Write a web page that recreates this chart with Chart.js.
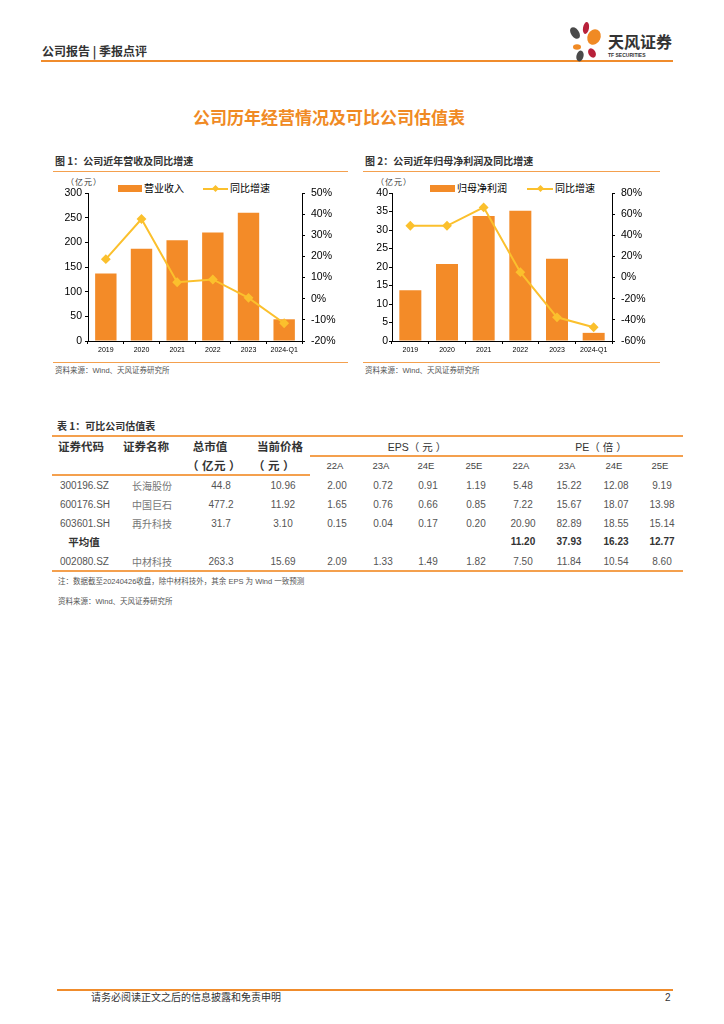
<!DOCTYPE html>
<html>
<head>
<meta charset="utf-8">
<script src="https://cdn.jsdelivr.net/npm/chart.js@4.4.1/dist/chart.umd.min.js"></script>
<style>
html, body { margin: 0; padding: 0; background: #fff; }
body { width: 724px; height: 1024px; position: relative; overflow: hidden;
  font-family: "Liberation Sans", "Noto Sans CJK SC", sans-serif; color: #333; }
.t { position: absolute; white-space: nowrap; line-height: 1; }
.ln { position: absolute; background: #F4A04E; }
canvas { position: absolute; }
.sw-bar { position: absolute; background: #F38B28; }
.sw-line { position: absolute; height: 2px; background: #FBC02D; }
.sw-dot { position: absolute; width: 5px; height: 5px; background: #FBC02D; transform: rotate(45deg); }
</style>
</head>
<body>

<!-- header -->
<div class="t" style="left:42px;top:45px;font-size:12px;font-weight:bold;color:#333;font-family:'Noto Sans CJK SC';">公司报告 | 季报点评</div>
<div class="ln" style="left:41px;top:60px;width:632px;height:2px;background:#F08C2C;"></div>
<svg style="position:absolute;left:566px;top:20px" width="42" height="42" viewBox="0 0 42 42">
  <ellipse cx="9" cy="13" rx="4" ry="6.5" fill="#4a4a4a" transform="rotate(-35 9 13)"/>
  <ellipse cx="20" cy="8" rx="3" ry="6" fill="#B8213A" transform="rotate(10 20 8)"/>
  <ellipse cx="28" cy="17" rx="6.5" ry="8" fill="#F08A24" transform="rotate(25 28 17)"/>
  <ellipse cx="11" cy="27" rx="4" ry="2.8" fill="#F08A24"/>
  <ellipse cx="26" cy="33" rx="3.5" ry="5" fill="#B8213A" transform="rotate(-30 26 33)"/>
  <ellipse cx="14" cy="36" rx="3.5" ry="5.5" fill="#4a4a4a" transform="rotate(15 14 36)"/>
</svg>
<div class="t" style="left:608px;top:33px;font-size:16px;font-weight:bold;color:#333;font-family:'Noto Sans CJK SC';">天风证券</div>
<div class="t" style="left:608px;top:53px;font-size:5px;font-weight:bold;color:#333;">TF SECURITIES</div>

<!-- main title -->
<div class="t" style="left:329px;top:116px;transform:translate(-50%,-50%);font-size:17px;font-weight:bold;color:#F08A24;font-family:'Noto Sans CJK SC';">公司历年经营情况及可比公司估值表</div>

<!-- chart 1 frame -->
<div class="t" style="left:55px;top:156px;font-size:10px;font-weight:bold;color:#333;font-family:'Noto Sans CJK SC';">图 1：公司近年营收及同比增速</div>
<div class="ln" style="left:53px;top:171px;width:295px;height:1px;"></div>
<div class="t" style="left:66px;top:178px;font-size:8px;color:#333;letter-spacing:1px;font-family:'Noto Sans CJK SC';">（亿元）</div>
<div class="sw-bar" style="left:118px;top:185px;width:24px;height:7px;"></div>
<div class="t" style="left:144px;top:183px;font-size:10px;color:#000;font-family:'Noto Sans CJK SC';">营业收入</div>
<div class="sw-line" style="left:203px;top:188px;width:25px;"></div>
<div class="sw-dot" style="left:213px;top:186px;"></div>
<div class="t" style="left:230px;top:183px;font-size:10px;color:#000;font-family:'Noto Sans CJK SC';">同比增速</div>
<canvas id="revChart" width="300" height="180" style="left:50px;top:180px;width:300px;height:180px;"></canvas>
<div class="ln" style="left:53px;top:362px;width:295px;height:1px;"></div>
<div class="t" style="left:55px;top:367px;font-size:7.5px;color:#555;">资料来源：Wind、天风证券研究所</div>

<!-- chart 2 frame -->
<div class="t" style="left:365px;top:156px;font-size:10px;font-weight:bold;color:#333;font-family:'Noto Sans CJK SC';">图 2：公司近年归母净利润及同比增速</div>
<div class="ln" style="left:363px;top:171px;width:297px;height:1px;"></div>
<div class="t" style="left:376px;top:178px;font-size:8px;color:#333;letter-spacing:1px;font-family:'Noto Sans CJK SC';">（亿元）</div>
<div class="sw-bar" style="left:430px;top:185px;width:25px;height:7px;"></div>
<div class="t" style="left:457px;top:183px;font-size:10px;color:#000;font-family:'Noto Sans CJK SC';">归母净利润</div>
<div class="sw-line" style="left:527px;top:188px;width:26px;"></div>
<div class="sw-dot" style="left:538px;top:186px;"></div>
<div class="t" style="left:555px;top:183px;font-size:10px;color:#000;font-family:'Noto Sans CJK SC';">同比增速</div>
<canvas id="profitChart" width="300" height="180" style="left:360px;top:180px;width:300px;height:180px;"></canvas>
<div class="ln" style="left:363px;top:362px;width:297px;height:1px;"></div>
<div class="t" style="left:365px;top:367px;font-size:7.5px;color:#555;">资料来源：Wind、天风证券研究所</div>

<!-- table -->
<div class="t" style="left:57px;top:421px;font-size:10px;font-weight:bold;color:#333;font-family:'Noto Sans CJK SC';">表 1：可比公司估值表</div>
<div class="ln" style="left:52px;top:435px;width:631px;height:2px;"></div>
<div class="ln" style="left:310px;top:455px;width:373px;height:2px;"></div>
<div class="ln" style="left:52px;top:474px;width:258px;height:2px;"></div>
<div class="ln" style="left:52px;top:570px;width:631px;height:2px;"></div>
<div id="table"></div>
<div class="t" style="left:58px;top:578px;font-size:7.5px;color:#555;">注：数据截至20240426收盘，除中材科技外，其余 EPS 为 Wind 一致预测</div>
<div class="t" style="left:58px;top:598px;font-size:7.5px;color:#555;">资料来源：Wind、天风证券研究所</div>

<!-- footer -->
<div class="ln" style="left:57px;top:989px;width:616px;height:2px;background:#F08C2C;"></div>
<div class="t" style="left:91px;top:992px;font-size:10px;color:#333;font-family:'Noto Sans CJK SC';">请务必阅读正文之后的信息披露和免责申明</div>
<div class="t" style="left:665px;top:993px;font-size:10px;color:#333;">2</div>

<script>
// chart data
const years = ['2019', '2020', '2021', '2022', '2023', '2024-Q1'];
const revenue = [137, 187, 204, 220, 260, 44];
const revenueYoy = [18.7, 37.7, 7.8, 9.1, 0.4, -11.6];
const profit = [13.7, 20.8, 33.8, 35.2, 22.2, 2.2];
const profitYoy = [49, 49, 66.4, 5.1, -37.6, -47];

// table data
const codes = ['300196.SZ', '600176.SH', '603601.SH', '', '002080.SZ'];
const names = ['长海股份', '中国巨石', '再升科技', '平均值', '中材科技'];
const mktCap = ['44.8', '477.2', '31.7', '', '263.3'];
const prices = ['10.96', '11.92', '3.10', '', '15.69'];
const epsCols = ['22A', '23A', '24E', '25E'];
const peCols = ['22A', '23A', '24E', '25E'];
const eps = [
  ['2.00', '0.72', '0.91', '1.19'],
  ['1.65', '0.76', '0.66', '0.85'],
  ['0.15', '0.04', '0.17', '0.20'],
  null,
  ['2.09', '1.33', '1.49', '1.82']
];
const pe = [
  ['5.48', '15.22', '12.08', '9.19'],
  ['7.22', '15.67', '18.07', '13.98'],
  ['20.90', '82.89', '18.55', '15.14'],
  ['11.20', '37.93', '16.23', '12.77'],
  ['7.50', '11.84', '10.54', '8.60']
];

const BAR = '#F38B28';
const LINE = '#FBC02D';

function txt(x, y, s, o) {
  o = o || {};
  const d = document.createElement('div');
  d.className = 't';
  d.textContent = s;
  d.style.left = x + 'px';
  d.style.top = y + 'px';
  d.style.fontSize = (o.size || 10) + 'px';
  d.style.color = o.color || '#555';
  if (o.bold) d.style.fontWeight = 'bold';
  if (o.cjk) d.style.fontFamily = "'Noto Sans CJK SC'";
  if (o.spacing) d.style.letterSpacing = o.spacing + 'px';
  d.style.transform = o.align === 'l' ? 'translate(0,-50%)' : 'translate(-50%,-50%)';
  document.getElementById('table').appendChild(d);
}

function buildTable() {
  const hd = { size: 11.5, bold: true, color: '#333', cjk: true };
  txt(58, 447, '证券代码', Object.assign({ align: 'l' }, hd));
  txt(123, 447, '证券名称', Object.assign({ align: 'l' }, hd));
  txt(210, 447, '总市值', hd);
  txt(280, 447, '当前价格', hd);
  txt(214, 466, '（ 亿元 ）', Object.assign({ spacing: 0.5 }, hd));
  txt(274, 466, '（ 元 ）', Object.assign({ spacing: 0.5 }, hd));
  txt(417, 447, 'EPS（ 元 ）', { size: 10.5, color: '#333' });
  txt(601, 447, 'PE（ 倍 ）', { size: 10.5, color: '#333' });

  const colX = [337, 383, 428, 476, 523, 569, 616, 662];
  epsCols.forEach((c, i) => txt(colX[i] - 2, 466, c, { size: 9.5, color: '#444' }));
  peCols.forEach((c, i) => txt(colX[i + 4] - 2, 466, c, { size: 9.5, color: '#444' }));

  const rowY = [486, 505, 524, 542, 562];
  names.forEach((n, r) => {
    const y = rowY[r];
    if (n === '平均值') {
      txt(84, y, n, { size: 10.5, bold: true, color: '#333', cjk: true });
    } else {
      txt(60, y, codes[r], { size: 10, align: 'l' });
      txt(152, y, n, { size: 10, color: '#777', cjk: true });
      txt(221, y, mktCap[r], { size: 10 });
      txt(283, y, prices[r], { size: 10 });
    }
    if (eps[r]) eps[r].forEach((v, i) => txt(colX[i], y, v, { size: 10 }));
    pe[r].forEach((v, i) => txt(colX[i + 4], y, v, n === '平均值' ? { size: 10, bold: true, color: '#333' } : { size: 10 }));
  });
}

function axisOpts(pos, width, opts) {
  return Object.assign({
    position: pos,
    afterFit: function(s) { s.width = width; },
    border: { color: '#000', width: 1 },
    grid: { drawOnChartArea: false, color: '#000', tickLength: 3 },
    ticks: { color: '#000', font: { family: 'Liberation Sans', size: 10.5 } }
  }, opts);
}

function makeChart(id, barLabel, bars, yoy, leftW, leftMax, leftStep, rMin, rMax, rStep, leftPad) {
  const ctx = document.getElementById(id);
  return new Chart(ctx, {
    type: 'bar',
    data: {
      labels: years,
      datasets: [
        {
          type: 'line',
          label: '同比增速',
          data: yoy,
          yAxisID: 'y1',
          borderColor: LINE,
          backgroundColor: LINE,
          borderWidth: 2,
          pointStyle: 'rectRot',
          pointRadius: 3.5,
          pointBackgroundColor: LINE,
          pointBorderColor: LINE,
          tension: 0,
          order: 0
        },
        {
          label: barLabel,
          data: bars,
          yAxisID: 'y',
          backgroundColor: BAR,
          categoryPercentage: 1,
          barPercentage: 0.6,
          order: 1
        }
      ]
    },
    options: {
      responsive: false,
      animation: false,
      layout: { padding: { top: 13, left: 0, right: 0, bottom: 0 } },
      plugins: { legend: { display: false }, tooltip: { enabled: false } },
      scales: {
        x: {
          afterFit: function(s) { s.height = 19; },
          border: { color: '#000', width: 1 },
          grid: { drawOnChartArea: false, color: '#000', tickLength: 3, offset: true },
          ticks: { color: '#000', padding: 2, maxRotation: 0, font: { family: 'Liberation Sans', size: 7 } }
        },
        y: axisOpts('left', leftW, {
          min: 0, max: leftMax,
          ticks: { color: '#000', padding: leftPad, stepSize: leftStep, font: { family: 'Liberation Sans', size: 10.5 } }
        }),
        y1: axisOpts('right', 48, {
          min: rMin, max: rMax,
          ticks: {
            color: '#000', padding: 6, stepSize: rStep,
            font: { family: 'Liberation Sans', size: 10.5 },
            callback: function(v) { return v + '%'; }
          }
        })
      }
    }
  });
}

document.addEventListener('DOMContentLoaded', function() {
  buildTable();
  makeChart('revChart', '营业收入', revenue, revenueYoy, 38, 300, 50, -20, 50, 10, 3);
  makeChart('profitChart', '归母净利润', profit, profitYoy, 32, 40, 5, -60, 80, 20, 1);
});
</script>
</body>
</html>
